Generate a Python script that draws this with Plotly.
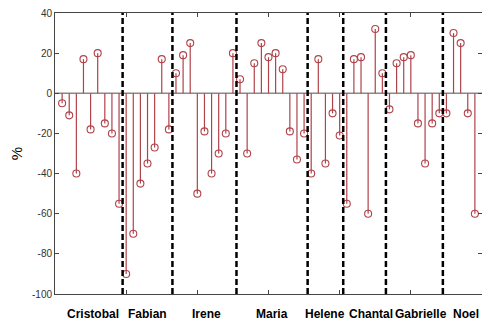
import plotly.graph_objects as go

# ---- data ----
groups = ["Cristobal", "Fabian", "Irene", "Maria", "Helene", "Chantal", "Gabrielle", "Noel"]
group_sizes = [9, 7, 9, 10, 5, 6, 8, 5]
values = [
    -5, -11, -40, 17, -18, 20, -15, -20, -55,          # Cristobal
    -90, -70, -45, -35, -27, 17, -18,                  # Fabian
    10, 19, 25, -50, -19, -40, -30, -20, 20,           # Irene
    7, -30, 15, 25, 18, 20, 12, -19, -33, -20,         # Maria
    -40, 17, -35, -10, -21,                            # Helene
    -55, 17, 18, -60, 32, 10,                          # Chantal
    -8, 15, 18, 19, -15, -35, -15, -10,                # Gabrielle
    -10, 30, 25, -10, -60,                             # Noel
]
y_ticks = [40, 20, 0, -20, -40, -60, -80, -100]
x_ticks = [10, 20, 30, 40, 50, 60]

# small horizontal nudges (px) for some group labels, as placed in the original
label_nudge = {"Cristobal": 2, "Irene": 2, "Chantal": 6, "Gabrielle": 7, "Noel": 5}

idx = list(range(1, len(values) + 1))

stem_color = "#b0424a"
axis_color = "#444444"

# stems
sx, sy = [], []
for i, v in zip(idx, values):
    sx += [i, i, None]
    sy += [0, v, None]

fig = go.Figure()
fig.add_trace(go.Scatter(x=sx, y=sy, mode="lines",
                         line=dict(color=stem_color, width=1.2),
                         hoverinfo="skip", showlegend=False))
fig.add_trace(go.Scatter(x=idx, y=values, mode="markers",
                         marker=dict(symbol="circle-open", size=7,
                                     color=stem_color, line=dict(width=1.1)),
                         showlegend=False))

# baseline
fig.add_shape(type="line", xref="paper", yref="y", x0=0, x1=1, y0=0, y1=0,
              line=dict(color="#8a8a8a", width=1.5), layer="below")

# group separators and labels
cum = 0
for name, n in zip(groups, group_sizes):
    start = cum
    cum += n
    if cum < len(values):
        fig.add_shape(type="line", xref="x", yref="paper",
                      x0=cum + 0.5, x1=cum + 0.5, y0=0, y1=1,
                      line=dict(color="black", width=2.5, dash="6px,3px"))
    fig.add_annotation(x=start + (n + 1) / 2, y=0, xref="x", yref="paper",
                       yshift=-11, xshift=label_nudge.get(name, 0),
                       text=f"<b>{name}</b>", showarrow=False, yanchor="top",
                       font=dict(family="Liberation Sans, Arial", size=12, color="black"))

fig.update_xaxes(range=[0, 60], tickvals=x_ticks, showticklabels=False,
                 ticks="inside", ticklen=4, tickcolor=axis_color,
                 showline=True, linecolor=axis_color, linewidth=1, mirror="ticks",
                 showgrid=False, zeroline=False)
fig.update_yaxes(range=[-100, 40], tickvals=y_ticks,
                 ticktext=[str(t) for t in y_ticks],
                 ticks="inside", ticklen=4, tickcolor=axis_color,
                 showline=True, linecolor=axis_color, linewidth=1, mirror="ticks",
                 showgrid=False, zeroline=False, ticklabeloverflow="allow",
                 tickfont=dict(family="Liberation Sans, Arial", size=10, color="#333333"),
                 title=dict(text="%", standoff=5,
                            font=dict(family="Liberation Sans, Arial", size=15, color="black")))

fig.update_layout(width=482, height=322,
                  margin=dict(l=55, r=0, t=13, b=28),
                  plot_bgcolor="white", paper_bgcolor="white",
                  showlegend=False)

fig.write_html("out.html", config={"displayModeBar": False},
               post_script="document.body.style.margin='0';document.body.style.overflow='hidden';")
